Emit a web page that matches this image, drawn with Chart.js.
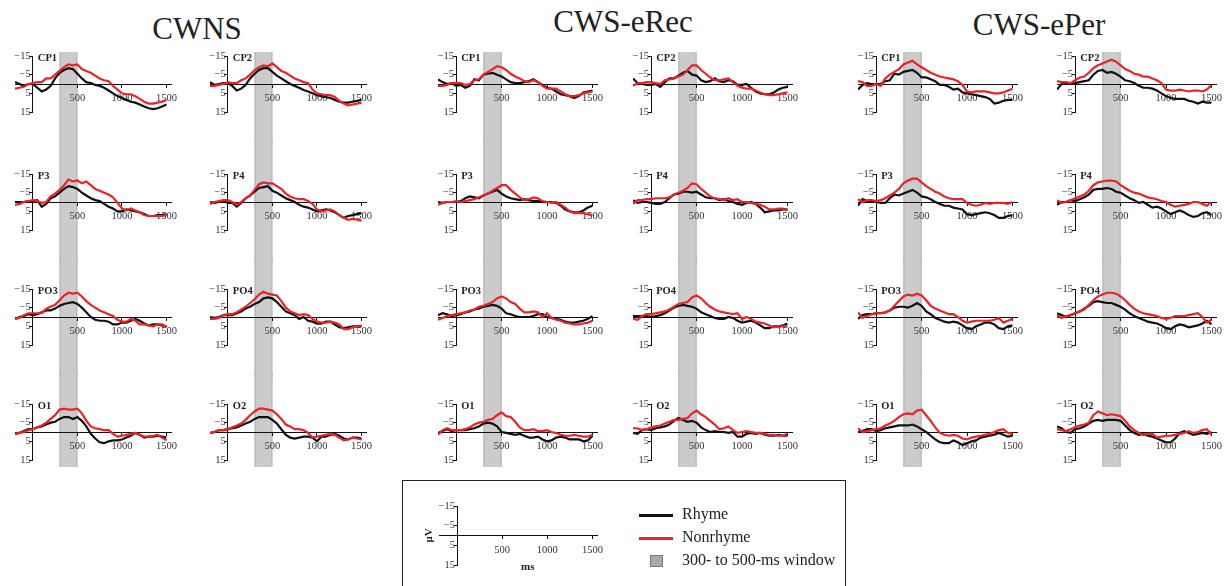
<!DOCTYPE html>
<html>
<head>
<meta charset="utf-8">
<title>ERP waveforms</title>
<script src="https://cdn.jsdelivr.net/npm/chart.js@4.4.1/dist/chart.umd.min.js"></script>
<style>
  body { margin: 0; width: 1226px; height: 586px; overflow: hidden; position: relative; background: #fff;
         font-family: "Liberation Serif", "Times New Roman", serif; color: #222; }
  canvas { position: absolute; }
  .group-title { position: absolute; font-size: 31px; line-height: 1; transform: translateX(-50%); white-space: nowrap; }
  #legendBox { position: absolute; left: 402px; top: 480px; width: 442px; height: 130px; border: 1.5px solid #222; }
  .axis-cap { position: absolute; font-weight: bold; font-size: 11px; line-height: 1; }
  .key-line { position: absolute; width: 34px; height: 3px; }
  .key-text { position: absolute; font-size: 16px; line-height: 1; white-space: nowrap; }
  .key-box { position: absolute; width: 11px; height: 10px; background: #a9a9a9; border: 1px solid #7a7a7a; }
</style>
</head>
<body>
<script>
// time base of every waveform (ms)
const times = [-200, -150, -100, -50, 0, 50, 100, 150, 200, 250, 300, 350, 400, 450, 500, 550, 600,
  650, 700, 750, 800, 850, 900, 950, 1000, 1050, 1100, 1150, 1200, 1250, 1300, 1350, 1400, 1450, 1500];
const xTicks = [500, 1000, 1500];
const yTicks = [-15, -5, 5, 15];
const windowMs = [300, 500];
const groups = ['CWNS', 'CWS-eRec', 'CWS-ePer'];

// amplitudes in microvolts, negative plotted up
const cwnsCp1Rhyme = [-1,0,1,0,0, 2,4,3,1,-3, -6,-7.5,-8.5,-8,-5.5, -3,-1,-0.5,0.5,1, 2,3.5,5,6.5,7.5, 8.5,9.5,10,11,12, 13,13.5,13,12,11];
const cwnsCp1Non = [2.5,2,1.5,0,-0.5, -1,-1,-3,-3,-5, -7,-9,-10.5,-10,-10.5, -8,-7,-6,-4.5,-3, -2,-1.5,1,3,5, 5.5,5.5,6.5,8,9.5, 10.5,10.5,10,9.5,8.5];
const cwnsCp2Rhyme = [-1,0.5,0,-0.5,-0.5, 1,3.5,2.5,0.5,-3, -5.5,-7.5,-8.5,-8.5,-6.5, -4.5,-3,-1.5,0,1, 2,3.2,4,5,6, 6.5,7,7.5,8.5,9.5, 10,10,9.5,9,8.5];
const cwnsCp2Non = [1,1,0.5,0,-1, -0.5,-0.5,-2,-3,-5, -7.5,-9,-10,-9.5,-11, -9,-7,-6,-4.5,-3, -2,-1,-0.5,3,5, 5.5,6,6,7,9, 10.5,11.5,11,10.5,10];
const cwnsP3Rhyme = [0,0,0,-0.5,-0.5, -1,2.5,1,-2,-3, -5,-7,-8.5,-8,-7, -5,-3.5,-2,-1,-0.5, 1,2.5,3.5,5,5, 4,4.5,5,5.5,6.5, 7.5,7.5,7,7,6.5];
const cwnsP3Non = [1.5,1,0,-0.5,-1, -0.5,0.5,0,-3,-4.5, -6.5,-9,-12,-11,-11.5, -10,-11,-9,-7,-6, -5,-4,-2.5,0.5,3.5, 4.5,3.5,4.5,5.5,7, 7.5,7.5,7.5,7.5,7];
const cwnsP4Rhyme = [0,0.5,0,-0.5,0.5, 0.5,2.5,0.5,-2,-3.5, -5.5,-7.5,-8,-8.5,-6, -5,-3.5,-2,-1,0, 1.5,2.5,3,4,5, 4.5,4,4.5,5.5,7, 8.5,7.5,7,6.5,6];
const cwnsP4Non = [1,0,-0.5,-1,-1, 0,1.5,0,-2,-3.5, -6.5,-9.5,-10.5,-10,-10, -8.5,-7,-4.5,-3,-2, -1.5,-1.5,-0.5,1,4, 5,4.5,4,5,7, 8.5,9.5,9,9.5,10];
const cwnsPo3Rhyme = [1,0,-0.5,-1.5,-1, -1.5,-2.5,-3.5,-3.5,-4.5, -6,-7,-7.5,-8,-7, -5,-2.5,0,1.5,2, 2,2.5,4,4,3, 3,2,1,2,3.5, 4.5,4,4,4.5,5];
const cwnsPo3Non = [1,0.5,-1,-2,-2, -2,-2,-4.5,-5.5,-6.5, -9,-11.5,-13,-12.5,-13, -11,-8.5,-6.5,-5,-3.5, -2.5,-1.5,-0.5,1.5,2.5, 2.5,1,2,4,4, 4.5,5,4,4,5.5];
const cwnsPo4Rhyme = [0,0.5,0,-1,-1, -1,-2,-3,-4.5,-5.5, -7,-8,-10,-10.5,-10, -8,-5.5,-3,-2,-1, 1,0,2,2.5,3.5, 3.5,2.5,2.5,4,5.5, 6,5.5,5,5,5];
const cwnsPo4Non = [1,1,0.5,-1,-1.5, -1.5,-2.5,-4,-5.5,-7.5, -9.5,-12,-13.5,-12.5,-12, -11.5,-8.5,-5,-3,-2, -1,-1.5,-1,1,2.5, 3,3,2.5,3,4, 6.5,6.5,5.5,5,4.5];
const cwnsO1Rhyme = [1,0.5,-0.5,-1.5,-1.5, -2.5,-3,-4,-5,-5.5, -7,-8,-8,-7,-8, -6,-3,1,3.5,5.5, 6,5,4.5,4.5,4, 3,2,0.5,1.5,3, 2.5,2.5,2,2.5,3];
const cwnsO1Non = [1,0.5,0,-1,-1.5, -2.5,-3.5,-5,-7,-9, -12,-12.5,-12,-12,-12.5, -10,-6,-3,-2,-1.5, -1,-1,1,2.5,2, 1.5,1,0.5,1.5,2.5, 2.5,2,1.5,3,4.5];
const cwnsO2Rhyme = [0.5,0,-1,-1,-1.5, -2,-2.5,-3.5,-4.5,-5.5, -7,-8,-8,-8,-6.5, -4.5,-1.5,1.5,3,3.5, 3,2.5,2.5,3,5, 2.5,2.5,1.5,1,2, 3.5,4,3,3,3.5];
const cwnsO2Non = [0.5,0,-1,-1,-1.5, -2.5,-3.5,-4.5,-6.5,-9, -11,-12.5,-12.5,-12,-11.5, -9.5,-7,-4,-3,-1.5, -1.5,-1,0.5,3,2.5, 2,1.5,1,1.5,3, 4.5,4,3,3.5,4];

const erecCp1Rhyme = [-2.5,-1,0,-0.5,1, 0.5,2,1,-2.5,-2, -5,-5.5,-6,-5,-4, -2.5,-1,-0.5,-0.5,-1, -1.5,-2.5,-1,0.5,2, 2.5,4,5.5,6,6.5, 7.5,6.5,4.5,4,3.5];
const erecCp1Non = [1,1,0.5,-0.5,-0.5, -0.5,0.5,0,-2,-2.5, -5,-6.5,-8,-9.5,-9, -7.5,-5.5,-4,-3,-1.5, -1,-2,-1,1,2.5, 2.5,2.5,4,5.5,6.5, 6.5,6,5,4.5,4];
const erecCp2Rhyme = [-3,-0.5,0,0.5,0.5, 0,1.5,-1,-3,-3, -4.5,-6,-7,-5,-4.5, -2,-1,-1.5,-3,-1.5, -1,-2,-1.5,0.5,0.5, 0,2,4,5,5.5, 5.5,4.5,3,2,1.5];
const erecCp2Non = [1,-0.5,-0.5,-1,-1, -0.5,0,-2,-2.5,-3, -4,-5,-7.5,-10,-10, -7.5,-5.5,-3.5,-2,-2, -2.5,-3,-1,1,2, 2.5,2.5,3.5,4.5,5.5, 6,6,5.5,5,4.5];
const erecP3Rhyme = [0,0.5,0,0,0, -0.5,-2,-3,-2.5,-2, -3.5,-4.5,-5.5,-6.5,-4.5, -3,-2,-1.5,-1,-1.5, -1,-0.5,-0.5,0,0, 0,0.5,2,4,5, 5.5,5.5,4.5,3,2];
const erecP3Non = [1.5,0.5,0,0,-0.5, 0,-0.5,-1,-1.5,-2.5, -3.5,-4.5,-6,-7.5,-9, -9,-6.5,-4.5,-2.5,-1, -1.5,-2.5,-2,-0.5,0, 0.5,0,1.5,3,5, 6,6,6,6.5,7];
const erecP4Rhyme = [-1,0.5,0,0,0.5, 1,1,0,-2,-4, -4.5,-5.5,-5.5,-5,-5.5, -4,-2.5,-2,-2,-1, -1.5,-0.5,0,1,1.5, 0.5,0,1,3,5.5, 5,4.5,4.5,4,4];
const erecP4Non = [1,-1,-1,-1.5,-1.5, -2,-2,-2,-2.5,-4, -5,-6,-7.5,-10,-9.5, -7,-5,-3,-2,-1.5, -1,-2,-1,-1.5,0, 0,0.5,1,1.5,2.5, 4,4,3.5,3.5,4.5];
const erecPo3Rhyme = [-1,-2,-1.5,-0.5,-1, -1.5,-2.5,-3,-4,-4.5, -5.5,-6,-6.5,-6,-4.5, -2,-1.5,-0.5,0,0, 0,-0.5,-1.5,-1.5,0, 0.5,1,1.5,2.5,3, 3,2.5,2,1,-0.5];
const erecPo3Non = [1.5,0.5,-0.5,-1,-1.5, -2,-2.5,-3.5,-4,-5.5, -6,-7,-8,-10,-11, -10,-8,-7,-4.5,-2.5, -2.5,-3,-2.5,0,-2, 0.5,1.5,2,3,3.5, 4,4,3.5,3,2];
const erecPo4Rhyme = [-0.5,-0.5,-0.5,-0.5,0, -0.5,-1,-2,-3.5,-5, -6,-6.5,-6,-5.5,-4.5, -2.5,-1.5,-0.5,0.5,1, 1,0,0.5,2,3, 2.5,2,3,4.5,6, 6,5,5,4.5,3.5];
const erecPo4Non = [1,1.5,-0.5,-1.5,-1.5, -2,-2.5,-3,-4,-5.5, -7,-7.5,-8,-10.5,-11.5, -10,-7.5,-5.5,-4,-3, -2.5,-2,-1.5,-2,1, 0,1,2.5,3,3.5, 4.5,5.5,5,5,5];
const erecO1Rhyme = [0.5,-0.5,-1.5,-0.5,-1, -1,-1,-1.5,-2,-3, -4.5,-5,-4.5,-3,0, 0.5,1,1.5,1,2, 3,3,2.5,4,5, 4.5,3,2.5,3,4, 4,4,5,4.5,2];
const erecO1Non = [1.5,-1,-2,-1,-1, -1,-1.5,-2.5,-4,-5, -5.5,-6.5,-7,-9,-10.5, -8.5,-8,-5.5,-2.5,-1, -1,-1.5,-0.5,-0.5,-1, 0,0.5,1.5,2,2, 1.5,2,2.5,2.5,1.5];
const erecO2Rhyme = [0.5,1,-1,-1.5,-1, -2,-2.5,-3,-4,-6, -7.5,-6.5,-5.5,-6,-5, -2.5,-1,0,-0.5,0, 0,0.5,0,2.5,2.5, 1,0.5,1,0.5,1.5, 2,2,1.5,2,2];
const erecO2Non = [-2,-2,-1,-1.5,-2.5, -3,-3.5,-4.5,-5.5,-6.5, -6.5,-7,-7.5,-10,-11.5, -9.5,-8,-6,-4,-1.5, -2,-3,-1,0.5,0, -0.5,0,0.5,0.5,1, 1.5,1.5,2,2,1];

const eperCp1Rhyme = [3,0.5,-0.5,0,0, 0,-1.5,-2,-5.5,-5, -6.5,-7,-7.5,-6,-3.5, -3.5,-2.5,-1.5,0.5,0.5, 1.5,3,2.5,4.5,5, 5.5,6,6.5,7,8, 10.5,10,9,8.5,8.5];
const eperCp1Non = [-1.5,-1,1,1,0, 1,-3,-5,-6.5,-8, -10.5,-11.5,-12.5,-10.5,-9, -7.5,-6,-5,-4,-3.5, -3,-2.5,-1.5,0.5,4, 4.5,4,4,4,4.5, 5,5,4.5,3.5,2.5];
const eperCp2Rhyme = [3,0,-0.5,0,-0.5, -1,-1.5,-2,-5,-7, -7.5,-6,-6.5,-5.5,-4, -2,-1.5,-0.5,1,2, 2,2.5,3.5,5,6.5, 7.5,8,8,8,9, 9.5,10.5,9.5,10,10];
const eperCp2Non = [-1.5,-1,-1,-0.5,-2, -3.5,-4,-6,-8.5,-10, -11,-12,-13,-12,-10, -8,-7,-5.5,-5,-4, -4,-3,-2,-0.5,3, 3.5,3.5,3,3.5,4, 3.5,3.5,4,3,0.5];
const eperP3Rhyme = [2,-1.5,-0.5,-0.5,0, 0.5,0.5,-2,-4,-3.5, -4.5,-5.5,-6.5,-5,-3, -2.5,-1.5,0,1,2, 2,3,3.5,4,6.5, 7,6.5,6,5.5,6, 7,8.5,8.5,7.5,7];
const eperP3Non = [-1.5,0,-1,-1,-0.5, -1,-2,-3.5,-5,-7, -10,-11.5,-12.5,-12.5,-10.5, -8.5,-7,-5.5,-4.5,-3, -2,-1.5,-1.5,-1.5,0.5, 1.5,2,1.5,0.5,1, 0.5,0.5,0.5,1,0];
const eperP4Rhyme = [1.5,0,0,-1,-0.5, -1.5,-2.5,-4,-6.5,-7, -7,-7.5,-7,-5.5,-5, -3.5,-2,-1,0.5,0, 1.5,3,2.5,3.5,5, 6.5,5.5,4.5,5.5,7, 8,7.5,6,5.5,7];
const eperP4Non = [-1,0.5,0,-1,-2, -3,-4,-6,-9,-10.5, -11,-11.5,-11.5,-11,-9, -7.5,-6,-5,-4.5,-3.5, -2.5,-2,-1.5,-0.5,0, 1.5,2.5,2,1.5,1, 0,0,1,2,0];
const eperPo3Rhyme = [1,-1,-1.5,-1.5,-2, -2,-2.5,-3.5,-5,-5.5, -5.5,-5,-6,-7.5,-6, -3,-1.5,0.5,1.5,2.5, 3,2.5,3,4.5,6, 6.5,5,4,3,3, 4,6,6.5,5,4.5];
const eperPo3Non = [-2.5,0.5,-0.5,-1.5,-2, -2,-2.5,-3.5,-6,-8.5, -11,-12,-11.5,-12.5,-11.5, -9,-6,-4.5,-3.5,-2.5, -1.5,-1.5,0,2,3, 2.5,2,2,2,2, 1.5,0.5,3,2,1];
const eperPo4Rhyme = [-2,-1,0,-1,-2, -3,-4.5,-6,-8,-8.5, -8,-7.5,-7.5,-6.5,-5.5, -4,-2,-0.5,0.5,1.5, 2.5,3,3.5,4.5,6, 6.5,5,4,4.5,5.5, 5,4.5,3.5,2,4];
const eperPo4Non = [-1,0.5,-0.5,-1,-2, -3,-4,-6.5,-9,-11, -12,-13,-13,-12.5,-11, -9,-6.5,-4.5,-3,-2, -1.5,-1,-0.5,0.5,1, 0.5,-0.5,-0.5,-0.5,-1, -1.5,-2,0,3,1.5];
const eperO1Rhyme = [0,-0.5,-1.5,-1.5,-0.5, -1,-2,-2.5,-3,-3.5, -3.5,-3.5,-4,-3,-1.5, 0,2,4,5.5,6, 6,4.5,5.5,7,6, 5,4.5,3,2.5,2, 1.5,0.5,1.5,2.5,2];
const eperO1Non = [-2,0,-0.5,-1,-1.5, -2,-3.5,-4.5,-6,-8, -9.5,-10,-9.5,-11.5,-12, -9,-6,-2.5,0.5,1.5, 2,1.5,2,3.5,4, 3,2.5,2,1.5,1, 0,-1,-1.5,0.5,1];
const eperO2Rhyme = [-3,-2,0,0.5,-1.5, -2,-3,-4.5,-6,-6.5, -6,-6.5,-6.5,-6.5,-6, -3.5,-1,0.5,1.5,1, 2,2.5,3.5,4.5,5.5, 5.5,3.5,0.5,-0.5,0.5, 1.5,1,0.5,1,0];
const eperO2Non = [-1.5,-1,-0.5,-1.5,-2.5, -3.5,-4,-5,-9,-11, -10,-9,-9.5,-9,-8.5, -6,-3,-1,0.5,1.5, 1,1,3,2.5,2, 2,1.5,1,0.5,-0.5, 0.5,0,-1,-1.5,1.5];

// group, row, column, electrode, rhyme, nonrhyme
const panels = [
  [0, 0, 0, 'CP1', cwnsCp1Rhyme, cwnsCp1Non], [0, 0, 1, 'CP2', cwnsCp2Rhyme, cwnsCp2Non],
  [0, 1, 0, 'P3', cwnsP3Rhyme, cwnsP3Non], [0, 1, 1, 'P4', cwnsP4Rhyme, cwnsP4Non],
  [0, 2, 0, 'PO3', cwnsPo3Rhyme, cwnsPo3Non], [0, 2, 1, 'PO4', cwnsPo4Rhyme, cwnsPo4Non],
  [0, 3, 0, 'O1', cwnsO1Rhyme, cwnsO1Non], [0, 3, 1, 'O2', cwnsO2Rhyme, cwnsO2Non],
  [1, 0, 0, 'CP1', erecCp1Rhyme, erecCp1Non], [1, 0, 1, 'CP2', erecCp2Rhyme, erecCp2Non],
  [1, 1, 0, 'P3', erecP3Rhyme, erecP3Non], [1, 1, 1, 'P4', erecP4Rhyme, erecP4Non],
  [1, 2, 0, 'PO3', erecPo3Rhyme, erecPo3Non], [1, 2, 1, 'PO4', erecPo4Rhyme, erecPo4Non],
  [1, 3, 0, 'O1', erecO1Rhyme, erecO1Non], [1, 3, 1, 'O2', erecO2Rhyme, erecO2Non],
  [2, 0, 0, 'CP1', eperCp1Rhyme, eperCp1Non], [2, 0, 1, 'CP2', eperCp2Rhyme, eperCp2Non],
  [2, 1, 0, 'P3', eperP3Rhyme, eperP3Non], [2, 1, 1, 'P4', eperP4Rhyme, eperP4Non],
  [2, 2, 0, 'PO3', eperPo3Rhyme, eperPo3Non], [2, 2, 1, 'PO4', eperPo4Rhyme, eperPo4Non],
  [2, 3, 0, 'O1', eperO1Rhyme, eperO1Non], [2, 3, 1, 'O2', eperO2Rhyme, eperO2Non]
];

// page layout
const zeroMsX = [33, 228, 456, 651, 876, 1075];   // where 0 ms sits, per column
const zeroUvY = [84, 202, 317, 432];              // where 0 uV sits, per row
const pxPerMs = [0.089, 0.091, 0.091];
const pxPerUv = 1.87;
const X_MIN = -200, X_MAX = 1550;
const PAD_L = 26, PAD_R = 18;
const titlePos = [[197, 13], [623, 6], [1039, 9]];

Chart.defaults.font.family = '"Liberation Serif", "Times New Roman", serif';
Chart.defaults.color = '#333';

const minus = v => (v < 0 ? '\u2212' + (-v) : String(v));

// shaded 300-500 ms window, runs through the whole column
const windowBand = {
  id: 'windowBand',
  beforeDraw(chart, args, opts) {
    if (!opts.show) return;
    const { ctx, chartArea, scales: { x } } = chart;
    const x1 = x.getPixelForValue(windowMs[0]);
    const x2 = x.getPixelForValue(windowMs[1]);
    const top = opts.first ? chartArea.top - 4 : 0;
    const bottom = opts.last ? chartArea.bottom + 7 : chart.height;
    ctx.save();
    ctx.fillStyle = '#cbcbcb';
    ctx.fillRect(x1, top, x2 - x1, bottom - top);
    ctx.strokeStyle = '#b2b2b2';
    ctx.lineWidth = 1;
    ctx.beginPath();
    ctx.moveTo(x1 + 0.5, top); ctx.lineTo(x1 + 0.5, bottom);
    ctx.moveTo(x2 - 0.5, top); ctx.lineTo(x2 - 0.5, bottom);
    ctx.stroke();
    ctx.restore();
  }
};

// electrode name next to the top of the y axis
const electrodeTag = {
  id: 'electrodeTag',
  afterDraw(chart, args, opts) {
    if (!opts.text) return;
    const { ctx, chartArea, scales: { x } } = chart;
    ctx.save();
    ctx.font = 'bold 10.5px "Liberation Serif", serif';
    ctx.fillStyle = '#222';
    ctx.textBaseline = 'middle';
    ctx.fillText(opts.text, x.getPixelForValue(0) + 5, chartArea.top + 2);
    ctx.restore();
  }
};

function scaleOptions() {
  const tickFont = { size: 10.5 };
  return {
    x: {
      type: 'linear', min: X_MIN, max: X_MAX,
      position: { y: 0 },
      afterBuildTicks: s => { s.ticks = xTicks.map(v => ({ value: v })); },
      grid: { drawOnChartArea: false, tickLength: 3, color: '#111' },
      border: { color: '#111', width: 1 },
      ticks: { font: tickFont, padding: 5, maxRotation: 0, autoSkip: false, callback: v => String(v) }
    },
    y: {
      type: 'linear', min: -15, max: 15, reverse: true,
      position: { x: 0 },
      afterBuildTicks: s => { s.ticks = yTicks.map(v => ({ value: v })); },
      grid: { drawOnChartArea: false, tickLength: 3, color: '#111' },
      border: { color: '#111', width: 1 },
      ticks: { font: tickFont, padding: 4, autoSkip: false, callback: v => minus(v) + '\u2009' }
    }
  };
}

function addCanvas(left, top, width, height) {
  const canvas = document.createElement('canvas');
  canvas.width = width;
  canvas.height = height;
  canvas.style.left = left + 'px';
  canvas.style.top = top + 'px';
  document.body.appendChild(canvas);
  return canvas;
}

function drawPanel(g, row, col, name, rhyme, nonrhyme) {
  const k = pxPerMs[g];
  const x0 = zeroMsX[g * 2 + col];
  const areaW = Math.round((X_MAX - X_MIN) * k);
  const areaH = Math.round(30 * pxPerUv);
  const padV = 32;
  const left = Math.round(x0 + X_MIN * k) - PAD_L;
  const top = Math.round(zeroUvY[row] - areaH / 2) - padV;
  const canvas = addCanvas(left, top, PAD_L + areaW + PAD_R, areaH + padV * 2);

  new Chart(canvas, {
    type: 'line',
    data: {
      datasets: [
        { label: 'Rhyme', data: times.map((t, i) => ({ x: t, y: rhyme[i] })),
          borderColor: '#111', borderWidth: 2.2, pointRadius: 0, tension: 0, order: 2 },
        { label: 'Nonrhyme', data: times.map((t, i) => ({ x: t, y: nonrhyme[i] })),
          borderColor: '#e8232a', borderWidth: 2.2, pointRadius: 0, tension: 0, order: 1 }
      ]
    },
    options: {
      responsive: false, animation: false, devicePixelRatio: 1, events: [],
      layout: { padding: { left: PAD_L, right: PAD_R, top: padV, bottom: padV } },
      plugins: {
        legend: { display: false }, tooltip: { enabled: false },
        windowBand: { show: true, first: row === 0, last: row === 3 },
        electrodeTag: { text: name }
      },
      scales: scaleOptions()
    },
    plugins: [windowBand, electrodeTag]
  });
}

groups.forEach((name, g) => {
  const div = document.createElement('div');
  div.className = 'group-title';
  div.textContent = name;
  div.style.left = titlePos[g][0] + 'px';
  div.style.top = titlePos[g][1] + 'px';
  document.body.appendChild(div);
});

panels.forEach(p => drawPanel(...p));

// key box: empty sample axes plus the three entries
const box = document.createElement('div');
box.id = 'legendBox';
document.body.appendChild(box);

(function drawKeyAxes() {
  const k = 0.09, x0 = 457, y0 = 535, uv = 1.97;
  const areaW = Math.round((X_MAX - X_MIN) * k);
  const areaH = Math.round(30 * uv);
  const left = Math.round(x0 + X_MIN * k) - PAD_L;
  const top = Math.round(y0 - areaH / 2) - 12;
  const canvas = addCanvas(left, top, PAD_L + areaW + PAD_R, areaH + 30);
  new Chart(canvas, {
    type: 'line',
    data: { datasets: [] },
    options: {
      responsive: false, animation: false, devicePixelRatio: 1, events: [],
      layout: { padding: { left: PAD_L, right: PAD_R, top: 12, bottom: 18 } },
      plugins: { legend: { display: false }, tooltip: { enabled: false } },
      scales: scaleOptions()
    }
  });
})();

const keyItems = [
  { kind: 'line', color: '#111', text: 'Rhyme', y: 515 },
  { kind: 'line', color: '#e8232a', text: 'Nonrhyme', y: 538 },
  { kind: 'box', text: '300- to 500-ms window', y: 561 }
];
keyItems.forEach(item => {
  const mark = document.createElement('div');
  if (item.kind === 'line') {
    mark.className = 'key-line';
    mark.style.left = '639px';
    mark.style.top = (item.y - 1.5) + 'px';
    mark.style.background = item.color;
  } else {
    mark.className = 'key-box';
    mark.style.left = '650px';
    mark.style.top = (item.y - 6) + 'px';
  }
  document.body.appendChild(mark);
  const label = document.createElement('div');
  label.className = 'key-text';
  label.textContent = item.text;
  label.style.left = '682px';
  label.style.top = (item.y - 9) + 'px';
  document.body.appendChild(label);
});

[['\u03bcV', 421, 530, true], ['ms', 521, 561, false]].forEach(([t, x, y, rotated]) => {
  const cap = document.createElement('div');
  cap.className = 'axis-cap';
  cap.textContent = t;
  cap.style.left = x + 'px';
  cap.style.top = y + 'px';
  if (rotated) cap.style.transform = 'rotate(-90deg)';
  document.body.appendChild(cap);
});
</script>
</body>
</html>
